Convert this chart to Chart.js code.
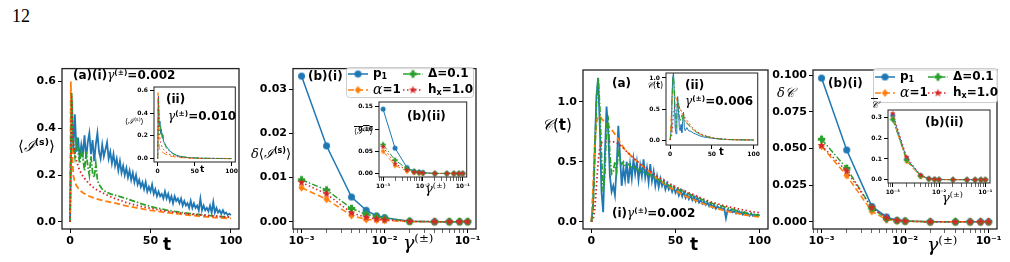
<!DOCTYPE html>
<html>
<head>
<meta charset="utf-8">
<script src="https://cdn.jsdelivr.net/npm/chart.js@4.4.0/dist/chart.umd.min.js"></script>
<style>
body { margin:0; background:#fff; width:1010px; height:262px; position:relative; overflow:hidden; font-family:"DejaVu Sans", sans-serif; }
canvas { position:absolute; }
.lbl { position:absolute; white-space:nowrap; line-height:1; color:#000; font-weight:bold; z-index:5; }
.g { font-family:"DejaVu Serif", serif; font-style:italic; font-weight:normal; }
.cal { font-family:"DejaVu Serif", serif; font-style:italic; font-weight:normal; }
sup { font-size:0.62em; vertical-align:0.6em; line-height:0; }
.ov { text-decoration:overline; }
</style>
</head>
<body>
<div class="lbl" style="left:12px;top:6px;font:18px 'Liberation Serif';">12</div>

<!-- panel (a) left -->
<div class="lbl" style="left:18px;top:139px;font-size:15px;font-weight:normal;">⟨<span class="cal">ℐ</span><sup><b>(s)</b></sup>⟩</div>
<div class="lbl" style="left:163px;top:236px;font-size:17px;">t</div>
<div class="lbl" style="left:73px;top:69px;font-size:12px;">(a)(i)<span class="g">γ</span><sup>(±)</sup>=0.002</div>
<div class="lbl" style="left:166px;top:93px;font-size:12px;">(ii)</div>
<div class="lbl" style="left:168px;top:110px;font-size:12px;"><span class="g">γ</span><sup>(±)</sup>=0.010</div>
<div class="lbl" style="left:125px;top:118px;font-size:8px;font-weight:normal;">⟨<span class="cal">ℐ</span><sup>(s)</sup>⟩</div>
<div class="lbl" style="left:200px;top:165px;font-size:9px;">t</div>

<!-- panel (b) left -->
<div class="lbl" style="left:251px;top:147px;font-size:13px;font-weight:normal;"><span class="g">δ</span>⟨<span class="cal">ℐ</span><sup><b>(s)</b></sup>⟩</div>
<div class="lbl" style="left:403px;top:233px;font-size:19px;"><span class="g">γ</span><sup class="g" style="font-style:normal">(±)</sup></div>
<div class="lbl" style="left:308px;top:70px;font-size:12px;">(b)(i)</div>
<div class="lbl" style="left:407px;top:110px;font-size:12px;">(b)(ii)</div>
<div class="lbl" style="left:354px;top:128px;font-size:8px;font-weight:normal;"><span class="ov">⟨<span class="cal">ℐ</span><sup>(s)</sup>⟩</span></div>
<div class="lbl" style="left:425px;top:182px;font-size:13px;"><span class="g">γ</span><sup class="g" style="font-style:normal">(±)</sup></div>

<!-- panel (a) right -->
<div class="lbl" style="left:542px;top:118px;font-size:15px;font-weight:normal;"><span class="cal">𝒞</span>(<b>t</b>)</div>
<div class="lbl" style="left:612px;top:77px;font-size:12px;">(a)</div>
<div class="lbl" style="left:612px;top:207px;font-size:12px;">(i)<span class="g">γ</span><sup>(±)</sup>=0.002</div>
<div class="lbl" style="left:690px;top:236px;font-size:17px;">t</div>
<div class="lbl" style="left:647px;top:82px;font-size:8px;font-weight:normal;"><span class="cal">𝒞</span>(<b>t</b>)</div>
<div class="lbl" style="left:685px;top:79px;font-size:12px;">(ii)</div>
<div class="lbl" style="left:685px;top:95px;font-size:12px;"><span class="g">γ</span><sup>(±)</sup>=0.006</div>
<div class="lbl" style="left:719px;top:147px;font-size:10px;">t</div>

<!-- panel (b) right -->
<div class="lbl" style="left:777px;top:86px;font-size:13px;font-weight:normal;"><span class="g">δ</span><span class="cal">𝒞</span></div>
<div class="lbl" style="left:828px;top:77px;font-size:12px;">(b)(i)</div>
<div class="lbl" style="left:927px;top:235px;font-size:19px;"><span class="g">γ</span><sup class="g" style="font-style:normal">(±)</sup></div>
<div class="lbl" style="left:925px;top:116px;font-size:12px;">(b)(ii)</div>
<div class="lbl" style="left:871px;top:100px;font-size:10px;font-weight:normal;"><span class="cal ov">𝒞</span></div>
<div class="lbl" style="left:942px;top:191px;font-size:13px;"><span class="g">γ</span><sup class="g" style="font-style:normal">(±)</sup></div>

<script>
// ---------- data ----------
const tGrid = Array.from({ length: 101 }, (_, i) => i);

// (a)(i) <I(s)>, gamma = 0.002
const aiBlue = [
    0, .52, .30, .46, .30, .36, .27, .33, .29, .37,
    .27, .34, .38, .29, .35, .26, .33, .38, .30, .27,
    .33, .28, .31, .34, .27, .30, .25, .29, .24, .27,
    .22, .26, .21, .24, .20, .23, .19, .22, .18, .21,
    .17, .20, .16, .18, .15, .17, .14, .17, .13, .15,
    .13, .16, .12, .14, .11, .13, .11, .12, .10, .13,
    .10, .12, .09, .11, .08, .11, .09, .10, .08, .10,
    .07, .09, .07, .08, .06, .09, .06, .08, .06, .07,
    .05, .10, .05, .07, .05, .06, .045, .07, .04, .085,
    .04, .06, .04, .05, .035, .05, .035, .04, .03, .035,
    .03];
const aiGreenT = [0, 1, 2, 3, 4, 5, 6, 7, 8, 9, 10, 11, 12, 13, 14, 15, 16, 17, 18, 19, 20, 22, 25, 30, 35, 40, 45, 50, 55, 60, 65, 70, 75, 80, 85, 90, 95, 100];
const aiGreen = [0, .55, .33, .28, .36, .30, .25, .31, .27, .22, .30, .24, .20, .28, .21, .19, .25, .18, .16, .15, .14, .13, .12, .11, .10, .088, .076, .066, .058, .051, .045, .040, .036, .032, .029, .026, .023, .021];
const aiRedT = [0, 1, 2, 3, 4, 5, 6, 8, 10, 12, 14, 16, 18, 20, 25, 30, 35, 40, 45, 50, 55, 60, 65, 70, 75, 80, 85, 90, 95, 100];
const aiRed = [0, .55, .34, .29, .26, .24, .22, .195, .178, .162, .150, .140, .132, .125, .108, .095, .083, .073, .065, .058, .052, .046, .041, .037, .033, .030, .027, .025, .022, .020];
const aiOrangeT = [0, 0.5, 1, 2, 3, 4, 5, 6, 8, 10, 12, 15, 20, 25, 30, 35, 40, 45, 50, 55, 60, 65, 70, 75, 80, 85, 90, 95, 100];
const aiOrange = [0, .60, .35, .20, .17, .155, .145, .135, .125, .117, .110, .102, .092, .085, .077, .069, .062, .056, .050, .045, .040, .036, .032, .028, .025, .022, .019, .017, .015];

// (a)(ii) <I(s)>, gamma = 0.010
const aiiBlueT = [0, 1, 2, 3, 4, 5, 6, 7, 8, 10, 12, 14, 16, 18, 20, 25, 30, 40, 50, 60, 80, 100];
const aiiBlue = [0, .55, .30, .33, .22, .26, .18, .21, .15, .13, .10, .09, .07, .06, .05, .03, .02, .01, .005, .003, .001, 0];
const aiiGreenT = [0, 1, 2, 3, 4, 5, 6, 8, 10, 12, 15, 20, 25, 30, 40, 60, 100];
const aiiGreen = [0, .52, .30, .26, .29, .20, .22, .14, .12, .09, .07, .045, .03, .02, .01, .003, 0];
const aiiRedT = [0, 1, 2, 3, 4, 6, 8, 10, 15, 20, 30, 40, 60, 100];
const aiiRed = [0, .55, .28, .18, .14, .10, .08, .065, .04, .027, .013, .007, .002, 0];
const aiiOrangeT = [0, 0.5, 1, 2, 3, 5, 8, 10, 15, 20, 30, 40, 60, 100];
const aiiOrange = [0, .58, .25, .10, .08, .065, .05, .04, .027, .018, .009, .005, .001, 0];

// (b) delta values vs gamma
const gammas = [0.001, 0.002, 0.004, 0.006, 0.008, 0.01, 0.02, 0.04, 0.06, 0.08, 0.1];
const biBlue = [0.033, 0.0172, 0.0056, 0.0026, 0.0013, 0.0009, 0.0001, 0, 0, 0, 0];
const biOrange = [0.0077, 0.0051, 0.0014, 0.0005, 0.0004, 0.0003, 0, 0, 0, 0, 0];
const biGreen = [0.0095, 0.0072, 0.0030, 0.0017, 0.0012, 0.0008, 0.0001, 0, 0, 0, 0];
const biRed = [0.0089, 0.0063, 0.0020, 0.0010, 0.0006, 0.0004, 0.0001, 0, 0, 0, 0];
const biiBlue = [0.145, 0.057, 0.013, 0.005, 0.003, 0.002, 0, 0, 0, 0, 0];
const biiOrange = [0.050, 0.018, 0.005, 0.002, 0.001, 0.0005, 0, 0, 0, 0, 0];
const biiGreen = [0.065, 0.030, 0.011, 0.004, 0.002, 0.001, 0, 0, 0, 0, 0];
const biiRed = [0.060, 0.022, 0.008, 0.003, 0.002, 0.001, 0, 0, 0, 0, 0];

// (a)(i) C(t), gamma = 0.002
const ciBlue = [
    0, .15, .60, 1.05, 1.20, .80, .25, .08, .55, .96,
    .75, .38, .25, .30, .22, .45, .80, .55, .30, .45,
    .35, .50, .32, .48, .36, .52, .40, .50, .35, .47,
    .38, .52, .37, .45, .33, .48, .34, .42, .30, .38,
    .29, .36, .30, .34, .27, .32, .27, .30, .25, .29,
    .24, .27, .22, .26, .21, .25, .20, .23, .19, .22,
    .18, .21, .17, .20, .16, .18, .15, .17, .14, .16,
    .13, .15, .12, .14, .11, .13, .11, .12, .10, .11,
    .03, .10, .09, .10, .08, .09, .07, .09, .07, .08,
    .06, .08, .06, .07, .05, .07, .05, .06, .05, .06,
    .05];
const ciGreenT = [0, 1, 2, 3, 4, 5, 6, 7, 8, 9, 10, 11, 12, 13, 14, 15, 16, 17, 18, 19, 20, 22, 24, 26, 28, 30, 33, 36, 40, 45, 50, 55, 60, 65, 70, 75, 80, 85, 90, 95, 100];
const ciGreen = [0, .10, .55, 1.0, 1.2, .95, .55, .25, .40, .80, .85, .55, .40, .42, .50, .42, .58, .52, .48, .50, .47, .48, .45, .46, .43, .42, .40, .38, .35, .31, .28, .25, .22, .19, .16, .14, .12, .10, .08, .065, .05];
const ciOrangeT = [0, 1, 2, 3, 4, 5, 6, 8, 10, 12, 15, 18, 20, 25, 30, 35, 40, 45, 50, 55, 60, 65, 70, 75, 80, 85, 90, 95, 100];
const ciOrange = [0, .30, .65, .83, .88, .88, .86, .83, .80, .77, .71, .64, .60, .53, .47, .41, .35, .30, .26, .22, .19, .16, .13, .11, .09, .075, .06, .05, .04];
const ciRedT = [0, 1, 2, 3, 4, 5, 6, 8, 10, 12, 15, 18, 20, 25, 30, 35, 40, 45, 50, 55, 60, 65, 70, 75, 80, 85, 90, 95, 100];
const ciRed = [0, .02, .10, .30, .50, .62, .66, .67, .67, .67, .66, .63, .60, .53, .47, .42, .37, .33, .29, .26, .23, .20, .17, .15, .13, .115, .10, .085, .075];

// (a)(ii) C(t), gamma = 0.006
const ciiBlueT = [0, 1, 2, 3, 4, 5, 6, 7, 8, 9, 10, 11, 12, 13, 14, 15, 16, 17, 18, 20, 22, 25, 28, 30, 35, 40, 45, 50, 60, 70, 80, 100];
const ciiBlue = [0, .15, .60, 1.0, 1.08, .70, .20, .10, .45, .70, .45, .20, .15, .25, .12, .30, .45, .20, .15, .20, .15, .14, .11, .10, .07, .05, .04, .03, .015, .008, .004, .001];
const ciiGreenT = [0, 1, 2, 3, 4, 5, 6, 7, 8, 9, 10, 11, 12, 13, 14, 15, 16, 17, 18, 20, 25, 30, 35, 40, 50, 60, 70, 80, 100];
const ciiGreen = [0, .10, .55, .95, 1.05, .85, .45, .20, .35, .65, .62, .40, .30, .35, .40, .32, .42, .34, .30, .27, .20, .14, .10, .07, .035, .017, .008, .004, .001];
const ciiOrangeT = [0, 1, 2, 3, 4, 5, 6, 8, 10, 12, 15, 18, 20, 25, 30, 35, 40, 50, 60, 70, 80, 100];
const ciiOrange = [0, .30, .60, .75, .78, .76, .72, .64, .56, .49, .40, .32, .28, .20, .14, .10, .07, .035, .017, .008, .004, .001];
const ciiRedT = [0, 2, 3, 4, 5, 6, 8, 10, 12, 15, 18, 20, 25, 30, 35, 40, 50, 60, 70, 80, 100];
const ciiRed = [0, .08, .25, .42, .52, .56, .57, .55, .50, .43, .36, .32, .23, .16, .11, .08, .04, .02, .009, .004, .001];

// (b) delta C and C-bar vs gamma
const diBlue = [0.098, 0.049, 0.0105, 0.0033, 0.001, 0.0005, 0, 0, 0, 0, 0];
const diOrange = [0.0515, 0.0315, 0.007, 0.0015, 0.0006, 0.0003, 0, 0, 0, 0, 0];
const diGreen = [0.0563, 0.0365, 0.0093, 0.002, 0.0008, 0.0004, 0, 0, 0, 0, 0];
const diRed = [0.052, 0.0345, 0.0097, 0.0026, 0.0009, 0.0005, 0, 0, 0, 0, 0];
const diiBlue = [0.31, 0.100, 0.020, 0.005, 0.002, 0.001, 0, 0, 0, 0, 0];
const diiOrange = [0.295, 0.088, 0.014, 0.003, 0.001, 0.0005, 0, 0, 0, 0, 0];
const diiGreen = [0.29, 0.095, 0.018, 0.004, 0.001, 0.0005, 0, 0, 0, 0, 0];
const diiRed = [0.32, 0.110, 0.022, 0.005, 0.002, 0.001, 0, 0, 0, 0, 0];

// ticks
const tTicks = [0, 50, 100];
const tTickLabels = ['0', '50', '100'];
const logTicks = [0.0008, 0.0009, 0.001, 0.002, 0.003, 0.004, 0.005, 0.006, 0.007, 0.008, 0.009,
    0.01, 0.02, 0.03, 0.04, 0.05, 0.06, 0.07, 0.08, 0.09, 0.1];
const logTickLabels = ['', '', '10⁻³', '', '', '', '', '', '', '', '', '10⁻²', '', '', '', '', '', '', '', '', '10⁻¹'];
const aiYTicks = [0, 0.2, 0.4, 0.6], aiYLabels = ['0.0', '0.2', '0.4', '0.6'];
const biYTicks = [0, 0.01, 0.02, 0.03], biYLabels = ['0.00', '0.01', '0.02', '0.03'];
const biiYTicks = [0, 0.05, 0.1, 0.15], biiYLabels = ['0.00', '0.05', '0.10', '0.15'];
const ciYTicks = [0, 0.5, 1.0], ciYLabels = ['0.0', '0.5', '1.0'];
const diYTicks = [0, 0.025, 0.05, 0.075, 0.1], diYLabels = ['0.000', '0.025', '0.050', '0.075', '0.100'];
const diiYTicks = [0, 0.1, 0.2, 0.3], diiYLabels = ['0.0', '0.1', '0.2', '0.3'];

// ---------- styles ----------
const styles = {
    p1: { color: '#1f77b4', dash: [], marker: 'circle', order: 4 },
    alpha: { color: '#ff7f0e', dash: [6, 3], marker: 'diamond', order: 3 },
    delta: { color: '#2ca02c', dash: [6, 2, 1.5, 2], marker: 'plus', order: 2 },
    hx: { color: '#d62728', dash: [1.5, 2.5], marker: 'star', order: 1 }
};

function markerImg(shape, color, r) {
    const s = Math.ceil(2 * r * 1.2 + 2);
    const cv = document.createElement('canvas');
    cv.width = s; cv.height = s;
    const g = cv.getContext('2d');
    const c = s / 2;
    g.fillStyle = color;
    g.beginPath();
    if (shape === 'circle') {
        g.arc(c, c, r, 0, Math.PI * 2);
    } else if (shape === 'diamond') {
        const d = r * 1.15;
        g.moveTo(c, c - d); g.lineTo(c + d * 0.8, c); g.lineTo(c, c + d); g.lineTo(c - d * 0.8, c);
    } else if (shape === 'plus') {
        const a = r * 1.05, w = r * 0.42;
        g.moveTo(c - w, c - a); g.lineTo(c + w, c - a); g.lineTo(c + w, c - w); g.lineTo(c + a, c - w);
        g.lineTo(c + a, c + w); g.lineTo(c + w, c + w); g.lineTo(c + w, c + a); g.lineTo(c - w, c + a);
        g.lineTo(c - w, c + w); g.lineTo(c - a, c + w); g.lineTo(c - a, c - w); g.lineTo(c - w, c - w);
    } else if (shape === 'star') {
        for (let k = 0; k < 10; k++) {
            const rr = k % 2 ? r * 0.5 : r * 1.2;
            const ang = -Math.PI / 2 + k * Math.PI / 5;
            g.lineTo(c + rr * Math.cos(ang), c + rr * Math.sin(ang));
        }
    }
    g.closePath();
    g.fill();
    return cv;
}

function series(key, xs, ys, width, markerR) {
    const st = styles[key];
    return {
        data: xs.map((x, i) => ({ x: x, y: ys[i] })),
        borderColor: st.color,
        backgroundColor: st.color,
        borderWidth: width,
        borderDash: st.dash,
        pointRadius: markerR ? markerR : 0,
        pointStyle: markerR ? markerImg(st.marker, st.color, markerR) : 'circle',
        order: st.order,
        tension: 0,
        fill: false
    };
}

function axis(type, min, max, ticks, labels, fontSize, fit) {
    return {
        type: type, min: min, max: max,
        afterBuildTicks: s => { s.ticks = ticks.map(v => ({ value: v })); },
        afterFit: s => { if (s.isHorizontal()) s.height = fit; else s.width = fit; },
        ticks: {
            autoSkip: false, maxRotation: 0, padding: 2, color: '#000',
            font: { family: 'DejaVu Sans', size: fontSize, weight: 'bold' },
            callback: (v, i) => labels[i]
        },
        grid: {
            display: true, drawOnChartArea: false, drawTicks: true, tickLength: 4, color: '#000',
            lineWidth: ctx => (labels[ctx.index] === '' ? 0.6 : 1)
        },
        border: { display: false }
    };
}

function framePlugin(white, lw) {
    return {
        id: 'frame',
        beforeDraw(chart) {
            if (!white) return;
            const a = chart.chartArea, ctx = chart.ctx;
            ctx.save();
            ctx.fillStyle = '#fff';
            ctx.fillRect(a.left, a.top, a.right - a.left, a.bottom - a.top);
            ctx.restore();
        },
        afterDatasetsDraw(chart) {
            const a = chart.chartArea, ctx = chart.ctx;
            ctx.save();
            ctx.strokeStyle = '#222';
            ctx.lineWidth = lw;
            ctx.strokeRect(a.left, a.top, a.right - a.left, a.bottom - a.top);
            ctx.restore();
        }
    };
}

function drawRich(ctx, parts, x, y) {
    parts.forEach(p => {
        let font = 'bold 12px DejaVu Sans', dy = 0;
        if (p[1] === 'sub') { font = 'bold 8px DejaVu Sans'; dy = 3; }
        if (p[1] === 'it') font = 'italic 14px DejaVu Serif';
        ctx.font = font;
        ctx.fillText(p[0], x, y + dy);
        x += ctx.measureText(p[0]).width;
    });
}

const legendItems = [
    { key: 'p1', col: 0, row: 0, parts: [['p'], ['1', 'sub']] },
    { key: 'alpha', col: 0, row: 1, parts: [['α', 'it'], ['=1']] },
    { key: 'delta', col: 1, row: 0, parts: [['Δ=0.1']] },
    { key: 'hx', col: 1, row: 1, parts: [['h'], ['x', 'sub'], ['=1.0']] }
];

function legendPlugin(L, T, box, cols, rows) {
    return {
        id: 'legendBox',
        afterDatasetsDraw(chart) {
            const ctx = chart.ctx;
            ctx.save();
            ctx.translate(-L, -T);
            ctx.fillStyle = 'rgba(255,255,255,0.85)';
            ctx.strokeStyle = '#cccccc';
            ctx.lineWidth = 1;
            ctx.beginPath();
            ctx.roundRect(box.x + 0.5, box.y + 0.5, box.w, box.h, 3);
            ctx.fill(); ctx.stroke();
            legendItems.forEach(it => {
                const st = styles[it.key];
                const x = cols[it.col], y = rows[it.row];
                ctx.setLineDash(st.dash);
                ctx.strokeStyle = st.color;
                ctx.lineWidth = 1.5;
                ctx.beginPath(); ctx.moveTo(x, y); ctx.lineTo(x + 20, y); ctx.stroke();
                ctx.setLineDash([]);
                const img = markerImg(st.marker, st.color, 3.5);
                ctx.drawImage(img, x + 10 - img.width / 2, y - img.height / 2);
                ctx.fillStyle = '#000';
                ctx.textBaseline = 'middle';
                drawRich(ctx, it.parts, x + 25, y);
            });
            ctx.restore();
        }
    };
}

// one chart: canvas box in page px, frame = plot area in page px
function makeChart(id, box, frame, xAx, yAx, datasets, inset, extra) {
    const cv = document.createElement('canvas');
    cv.id = id;
    cv.width = box.w; cv.height = box.h;
    cv.style.left = box.l + 'px'; cv.style.top = box.t + 'px';
    cv.style.zIndex = inset ? 3 : 1;
    document.body.appendChild(cv);
    return new Chart(cv.getContext('2d'), {
        type: 'line',
        data: { datasets: datasets },
        options: {
            responsive: false, animation: false, devicePixelRatio: 1, events: [],
            layout: { padding: { left: 0, bottom: 0, top: frame.y0 - box.t, right: box.l + box.w - frame.x1 } },
            plugins: { legend: { display: false }, tooltip: { enabled: false } },
            scales: { x: xAx, y: yAx }
        },
        plugins: [framePlugin(inset, inset ? 1 : 1.3)].concat(extra || [])
    });
}

document.addEventListener('DOMContentLoaded', function () {
    const fs = 11, fi = 6;
    const lw = 1.8, lwi = 1;

    // (a) <I(s)>
    let b = { l: 0, t: 60, w: 245, h: 202 }, f = { x0: 62, y0: 66, x1: 239, y1: 229 };
    makeChart('chartA', b, f,
        axis('linear', -5, 105, tTicks, tTickLabels, fs, b.t + b.h - f.y1),
        axis('linear', -0.03, 0.655, aiYTicks, aiYLabels, fs, f.x0 - b.l),
        [series('p1', tGrid, aiBlue, lw), series('alpha', aiOrangeT, aiOrange, lw),
         series('delta', aiGreenT, aiGreen, lw), series('hx', aiRedT, aiRed, lw)], false);
    b = { l: 128, t: 80, w: 112, h: 100 }; f = { x0: 154, y0: 87, x1: 237, y1: 162 };
    makeChart('chartAi', b, f,
        axis('linear', -5, 105, tTicks, tTickLabels, fi, b.t + b.h - f.y1),
        axis('linear', -0.03, 0.63, aiYTicks, aiYLabels, fi, f.x0 - b.l),
        [series('p1', aiiBlueT, aiiBlue, lwi), series('alpha', aiiOrangeT, aiiOrange, lwi),
         series('delta', aiiGreenT, aiiGreen, lwi), series('hx', aiiRedT, aiiRed, lwi)], true);

    // (b) delta <I(s)>
    b = { l: 245, t: 60, w: 260, h: 202 }; f = { x0: 293, y0: 66, x1: 476, y1: 229 };
    makeChart('chartB', b, f,
        axis('logarithmic', 0.00079, 0.126, logTicks, logTickLabels, fs, b.t + b.h - f.y1),
        axis('linear', -0.00165, 0.0347, biYTicks, biYLabels, fs, f.x0 - b.l),
        [series('p1', gammas, biBlue, 1.5, 3.5), series('alpha', gammas, biOrange, 1.5, 3.5),
         series('delta', gammas, biGreen, 1.5, 3.5), series('hx', gammas, biRed, 1.5, 3.5)], false,
        [legendPlugin(b.l, b.t, { x: 346, y: 67, w: 127, h: 30 }, [348, 403], [74, 90])]);
    b = { l: 353, t: 95, w: 119, h: 100 }; f = { x0: 379, y0: 102, x1: 467, y1: 177 };
    makeChart('chartBi', b, f,
        axis('logarithmic', 0.00079, 0.126, logTicks, logTickLabels, fi, b.t + b.h - f.y1),
        axis('linear', -0.008, 0.161, biiYTicks, biiYLabels, fi, f.x0 - b.l),
        [series('p1', gammas, biiBlue, 1, 2.5), series('alpha', gammas, biiOrange, 1, 2.5),
         series('delta', gammas, biiGreen, 1, 2.5), series('hx', gammas, biiRed, 1, 2.5)], true);

    // (a) C(t)
    b = { l: 520, t: 60, w: 255, h: 202 }; f = { x0: 583, y0: 70, x1: 768, y1: 229 };
    makeChart('chartC', b, f,
        axis('linear', -5, 105, tTicks, tTickLabels, fs, b.t + b.h - f.y1),
        axis('linear', -0.06, 1.265, ciYTicks, ciYLabels, fs, f.x0 - b.l),
        [series('p1', tGrid, ciBlue, lw), series('alpha', ciOrangeT, ciOrange, lw),
         series('delta', ciGreenT, ciGreen, lw), series('hx', ciRedT, ciRed, lw)], false);
    b = { l: 640, t: 66, w: 122, h: 96 }; f = { x0: 666, y0: 73, x1: 758, y1: 145 };
    makeChart('chartCi', b, f,
        axis('linear', -5, 105, tTicks, tTickLabels, fi, b.t + b.h - f.y1),
        axis('linear', -0.08, 1.08, ciYTicks, ciYLabels, fi, f.x0 - b.l),
        [series('p1', ciiBlueT, ciiBlue, lwi), series('alpha', ciiOrangeT, ciiOrange, lwi),
         series('delta', ciiGreenT, ciiGreen, lwi), series('hx', ciiRedT, ciiRed, lwi)], true);

    // (b) delta C
    b = { l: 770, t: 60, w: 240, h: 202 }; f = { x0: 813, y0: 70, x1: 997, y1: 229 };
    makeChart('chartD', b, f,
        axis('logarithmic', 0.00079, 0.126, logTicks, logTickLabels, fs, b.t + b.h - f.y1),
        axis('linear', -0.0049, 0.1035, diYTicks, diYLabels, fs, f.x0 - b.l),
        [series('p1', gammas, diBlue, 1.5, 3.5), series('alpha', gammas, diOrange, 1.5, 3.5),
         series('delta', gammas, diGreen, 1.5, 3.5), series('hx', gammas, diRed, 1.5, 3.5)], false,
        [legendPlugin(b.l, b.t, { x: 873, y: 68, w: 124, h: 34 }, [875, 928], [77, 93])]);
    b = { l: 865, t: 103, w: 130, h: 98 }; f = { x0: 888, y0: 110, x1: 990, y1: 183 };
    makeChart('chartDi', b, f,
        axis('logarithmic', 0.00079, 0.126, logTicks, logTickLabels, fi, b.t + b.h - f.y1),
        axis('linear', -0.016, 0.336, diiYTicks, diiYLabels, fi, f.x0 - b.l),
        [series('p1', gammas, diiBlue, 1, 2.5), series('alpha', gammas, diiOrange, 1, 2.5),
         series('delta', gammas, diiGreen, 1, 2.5), series('hx', gammas, diiRed, 1, 2.5)], true);
});
</script>
</body>
</html>
